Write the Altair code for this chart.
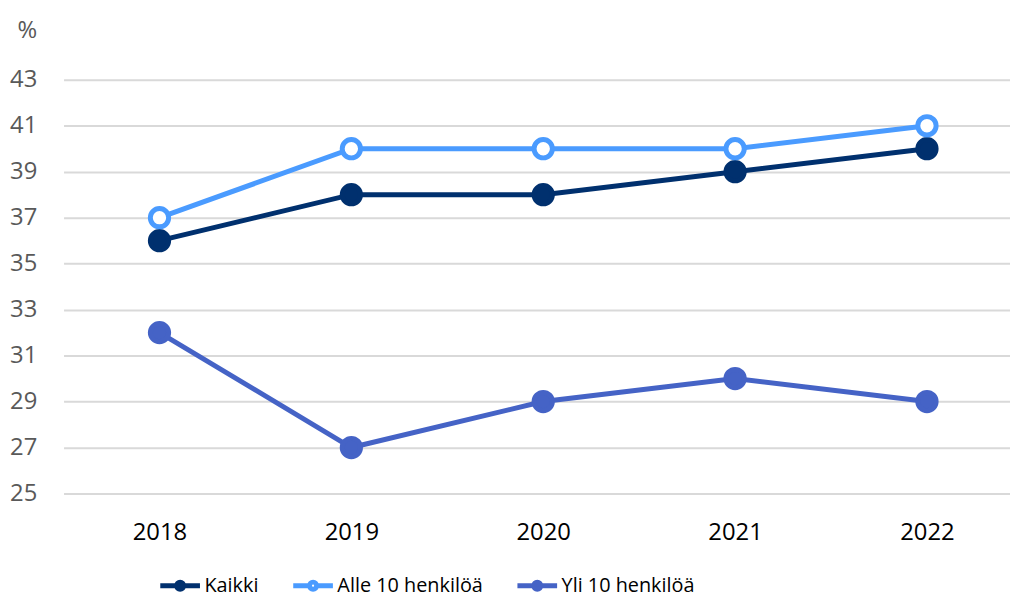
import altair as alt
import pandas as pd

years = ["2018", "2019", "2020", "2021", "2022"]
series_names = ["Kaikki", "Alle 10 henkilöä", "Yli 10 henkilöä"]
kaikki = [36, 38, 38, 39, 40]
alle10 = [37, 40, 40, 40, 41]
yli10 = [32, 27, 29, 30, 29]
y_ticks = [25, 27, 29, 31, 33, 35, 37, 39, 41, 43]

stroke_colors = ["#00306E", "#4A9BFF", "#4563C6"]
fill_colors = ["#00306E", "#FFFFFF", "#4563C6"]

rows = []
for name, vals in zip(series_names, [kaikki, alle10, yli10]):
    for yr, v in zip(years, vals):
        rows.append({"Vuosi": yr, "Arvo": v, "Sarja": name})
df = pd.DataFrame(rows)

sym_path = ("M-2,0H-0.36M0.36,0H2"
            "M-0.36,0A0.36,0.36,0,1,1,0.36,0A0.36,0.36,0,1,1,-0.36,0Z")

leg = alt.Legend(
    title=None,
    orient="none",
    legendX=105,
    legendY=497,
    direction="horizontal",
    symbolType=sym_path,
    symbolSize=400,
    symbolStrokeWidth=5,
    labelOffset=12,
    columnPadding=24,
    labelFont="Open Sans",
    labelFontSize=20,
    labelColor="#000000",
    labelLimit=300,
)

x_enc = alt.X(
    "Vuosi:O",
    sort=years,
    scale=alt.Scale(type="point", range=[0, 967], padding=0.5),
    axis=alt.Axis(
        title=None,
        labelAngle=0,
        labelColor="#000000",
        labelFont="Open Sans",
        labelFontSize=24,
        labelPadding=27,
        domain=False,
        ticks=False,
        grid=False,
    ),
)
y_enc = alt.Y(
    "Arvo:Q",
    scale=alt.Scale(domain=[25, 43], nice=False, zero=False),
    axis=alt.Axis(
        values=y_ticks,
        title="%",
        titleAngle=0,
        titleX=-37,
        titleY=-50,
        titleAlign="center",
        titleBaseline="middle",
        titleFont="Open Sans",
        titleFontSize=24,
        titleFontWeight="normal",
        titleColor="#595959",
        labelColor="#595959",
        labelFont="Open Sans",
        labelFontSize=24,
        labelPadding=27,
        domain=False,
        ticks=False,
        grid=True,
        gridColor="#D9D9D9",
        gridWidth=2,
    ),
)

stroke_enc = alt.Stroke(
    "Sarja:N",
    scale=alt.Scale(domain=series_names, range=stroke_colors),
    legend=leg,
)
fill_enc = alt.Fill(
    "Sarja:N",
    scale=alt.Scale(domain=series_names, range=fill_colors),
    legend=leg,
)

base = alt.Chart(df)
lines = base.mark_line(strokeWidth=5).encode(x=x_enc, y=y_enc, stroke=stroke_enc)
points = base.mark_point(filled=False, size=340, strokeWidth=5, opacity=1).encode(
    x=x_enc, y=y_enc, stroke=stroke_enc, fill=fill_enc
)

chart = (
    alt.layer(lines, points)
    .properties(
        width=954,
        height=417,
        background="#FFFFFF",
        autosize=alt.AutoSizeParams(type="none"),
        padding={"left": 56, "top": 70, "right": 0, "bottom": 105},
    )
    .configure_view(stroke=None, strokeWidth=0)
)

chart.save("out.html", embed_options={"renderer": "svg", "actions": False})
